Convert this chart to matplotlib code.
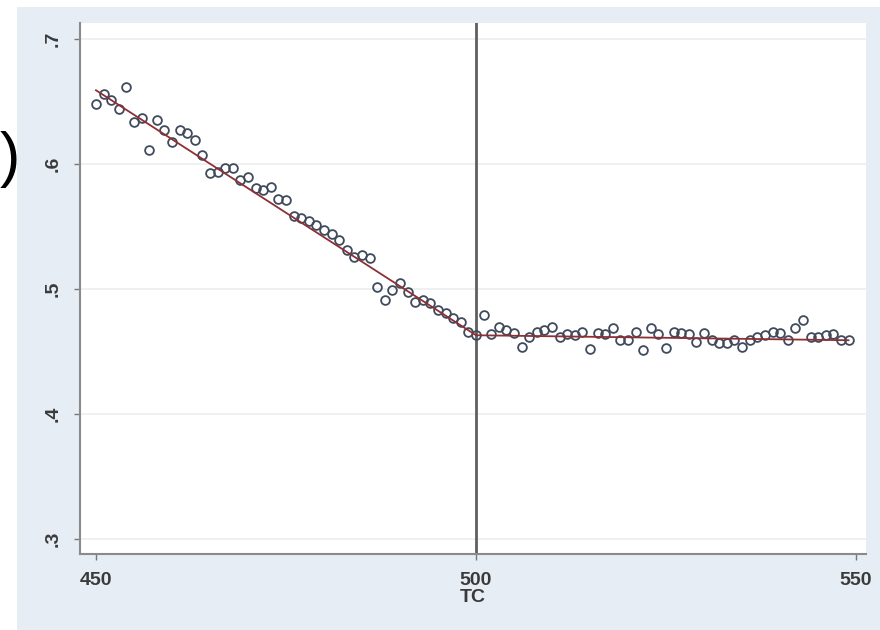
import matplotlib
matplotlib.use("Agg")
import matplotlib.pyplot as plt
from matplotlib.patches import Rectangle

# Running variable and binned outcome means
tc = list(range(450, 550))
outcome = [
    0.648, 0.656, 0.651, 0.644, 0.662, 0.634, 0.637, 0.611, 0.635, 0.627,
    0.618, 0.627, 0.625, 0.619, 0.607, 0.593, 0.594, 0.597, 0.597, 0.587,
    0.590, 0.581, 0.579, 0.582, 0.572, 0.571, 0.558, 0.557, 0.554, 0.551,
    0.547, 0.544, 0.539, 0.531, 0.526, 0.527, 0.525, 0.502, 0.491, 0.499,
    0.505, 0.498, 0.490, 0.491, 0.489, 0.483, 0.481, 0.477, 0.474, 0.466,
    0.463, 0.479, 0.464, 0.470, 0.467, 0.465, 0.454, 0.462, 0.466, 0.467,
    0.470, 0.462, 0.464, 0.463, 0.466, 0.452, 0.465, 0.464, 0.469, 0.459,
    0.459, 0.466, 0.451, 0.469, 0.464, 0.453, 0.466, 0.465, 0.464, 0.458,
    0.465, 0.459, 0.457, 0.457, 0.459, 0.454, 0.459, 0.462, 0.463, 0.466,
    0.465, 0.459, 0.469, 0.475, 0.462, 0.462, 0.463, 0.464, 0.459, 0.459,
]

# Fitted lines on each side of the cutoff
cutoff = 500
fit_left_x = [450, 500]
fit_left_y = [0.659, 0.463]
fit_right_x = [500, 549]
fit_right_y = [0.463, 0.459]

x_ticks = [450, 500, 550]
y_ticks = [0.3, 0.4, 0.5, 0.6, 0.7]
y_tick_labels = [".3", ".4", ".5", ".6", ".7"]
x_label = "TC"

W, H = 880, 630
fig = plt.figure(figsize=(W / 100, H / 100), dpi=100, facecolor="white")

# Light graph-region panel behind the plot
fig.patches.append(Rectangle((17 / W, 0), 1 - 17 / W, 1 - 7 / H,
                             transform=fig.transFigure, facecolor="#e7edf5",
                             edgecolor="none", zorder=-5))

ax = fig.add_axes([80 / W, 76 / H, 786 / W, 531 / H])
ax.set_facecolor("white")

ax.set_xlim(447.9, 551.3)
ax.set_ylim(0.288, 0.7128)

for yv in y_ticks:
    ax.axhline(yv, color="#eceef0", lw=1.2, zorder=1)

ax.axvline(cutoff, color="#5f5f5f", lw=2.0, zorder=2)

ax.plot(tc, outcome, linestyle="none", marker="o", markersize=6.3,
        markerfacecolor="none", markeredgecolor="#3f4a5c",
        markeredgewidth=1.3, zorder=3)
ax.plot(fit_left_x, fit_left_y, color="#8e2f35", lw=1.3, zorder=4)
ax.plot(fit_right_x, fit_right_y, color="#8e2f35", lw=1.3, zorder=4)

ax.set_xticks(x_ticks)
ax.set_xticklabels([str(v) for v in x_ticks])
ax.set_yticks(y_ticks)
ax.set_yticklabels(y_tick_labels, rotation=90, va="center")

for lab in ax.get_xticklabels() + ax.get_yticklabels():
    lab.set_fontfamily("Liberation Sans")
    lab.set_fontsize(14)
    lab.set_fontweight("bold")
    lab.set_color("#3a3a3a")

ax.tick_params(axis="both", length=4, width=1, color="#777777", pad=9)
ax.set_xlabel(x_label, fontsize=14, family="Liberation Sans", weight="bold",
              color="#3a3a3a", labelpad=0)

for side in ("top", "right"):
    ax.spines[side].set_visible(False)
for side in ("left", "bottom"):
    ax.spines[side].set_color("#8a8a8a")
    ax.spines[side].set_linewidth(1.5)

# Closing parenthesis at the left edge
fig.text(0 / W, 1 - 160 / H, ")", fontsize=44, family="Liberation Sans",
         color="black", va="center", ha="left")

fig.savefig("out.png", dpi=100, facecolor=fig.get_facecolor())
